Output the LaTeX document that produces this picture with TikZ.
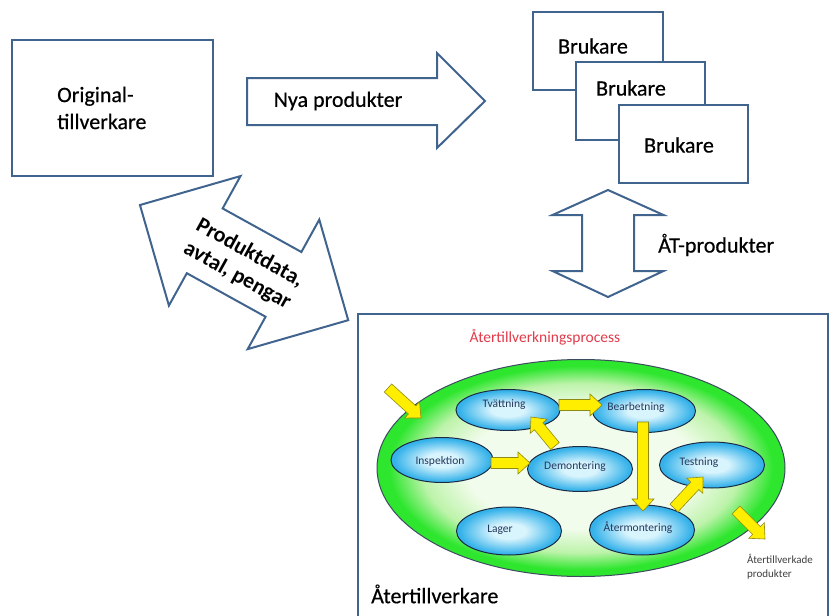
\documentclass[tikz,border=0pt]{standalone}
\usepackage{fontspec}
\setmainfont{Carlito}
\newfontfamily\labelfont[FakeBold=0.5]{Carlito}
\usetikzlibrary{calc,shapes.geometric}

\definecolor{edgeblue}{HTML}{41648F}
\definecolor{greenin}{HTML}{F2FCEC}
\definecolor{greenmid}{HTML}{BDF3AA}
\definecolor{greenout}{HTML}{2FE62F}
\definecolor{bluein}{HTML}{D8F4FD}
\definecolor{blueout}{HTML}{35B2EA}
\definecolor{ellline}{HTML}{1B2B45}
\definecolor{arrowyellow}{HTML}{FFEE00}
\definecolor{arrowline}{HTML}{8E8A10}
\definecolor{titlered}{HTML}{E23B4A}
\definecolor{steplabel}{HTML}{25385C}

% the path's bounding box covers the central 50bp square of a shading
\pgfdeclareradialshading{greenfield}{\pgfpoint{0bp}{0bp}}{%
  color(0bp)=(greenin); color(14bp)=(greenin); color(19.5bp)=(greenmid);
  color(23.5bp)=(greenout); color(50bp)=(greenout)}
\pgfdeclareradialshading{bluestep}{\pgfpoint{0bp}{0bp}}{%
  color(0bp)=(bluein); color(8bp)=(bluein); color(23.5bp)=(blueout);
  color(50bp)=(blueout)}

\tikzset{
  frame/.style={draw=edgeblue, line width=2pt, fill=white},
  bigarrow/.style={draw=edgeblue, line width=2pt, fill=white, line join=miter},
  biglabel/.style={font=\labelfont\fontsize{22}{27}\selectfont, inner sep=0pt},
  stepell/.style={ellipse, draw=ellline, line width=1pt, shading=bluestep,
    inner sep=0pt},
  steplbl/.style={font=\fontsize{11.5}{13}\selectfont, text=steplabel, inner sep=0pt},
  yarrow/.style={draw=arrowline, line width=0.6pt, fill=arrowyellow, line join=miter}
}

% yellow block arrow from #1 to #2
\newcommand\yellowarrow[2]{%
  \draw[yarrow] let \p1=($(#2)-(#1)$), \n1={atan2(\y1,\x1)}, \n2={veclen(\x1,\y1)} in
    ($(#1)+({\n1+90}:5.5pt)$)
    -- ($(#1)+(\n1:{\n2-12})+({\n1+90}:5.5pt)$)
    -- ($(#1)+(\n1:{\n2-12})+({\n1+90}:11pt)$)
    -- (#2)
    -- ($(#1)+(\n1:{\n2-12})+({\n1-90}:11pt)$)
    -- ($(#1)+(\n1:{\n2-12})+({\n1-90}:5.5pt)$)
    -- ($(#1)+({\n1-90}:5.5pt)$) -- cycle;}

\begin{document}
\begin{tikzpicture}[x=1pt, y=-1pt]
\useasboundingbox (0,0) rectangle (831,616);
\clip (0,0) rectangle (831,616);

% original manufacturer
\node[frame, minimum width=201pt, minimum height=136pt] (orig) at (112.5,108) {};
\node[biglabel, align=left, anchor=west] (origtxt) at (57,108) {Original-\\tillverkare};

% new products arrow
\draw[bigarrow] (247,78) -- (437,78) -- (437,53) -- (485,101) -- (437,148)
  -- (437,125) -- (247,125) -- cycle;
\node[biglabel] (nya) at (338,101) {Nya produkter};

% users
\node[frame, minimum width=130pt, minimum height=78pt] (bruk1) at (598,51) {};
\node[biglabel] (bruk1txt) at (593,46) {Brukare};
\node[frame, minimum width=129pt, minimum height=78pt] (bruk2) at (640.5,101) {};
\node[biglabel] (bruk2txt) at (631,88) {Brukare};
\node[frame, minimum width=129pt, minimum height=78pt] (bruk3) at (683.5,144) {};
\node[biglabel] (bruk3txt) at (679,145) {Brukare};

% remanufactured products, two-way arrow
\draw[bigarrow] (608,190) -- (663.5,215) -- (634,215) -- (634,271) -- (663.5,271)
  -- (608,297) -- (552.5,271) -- (582,271) -- (582,215) -- (552.5,215) -- cycle;
\node[biglabel, anchor=west] (atp) at (658,245) {ÅT-produkter};

% product data, agreements, money
\begin{scope}[shift={(244.1,262.6)}, rotate=-28.94]
  \draw[bigarrow] (-119,0) -- (-45,74) -- (-45,37) -- (45,37) -- (45,74) -- (119,0)
    -- (45,-74) -- (45,-37) -- (-45,-37) -- (-45,-74) -- cycle;
\end{scope}
\node[biglabel, font=\bfseries\fontsize{22}{26}\selectfont, align=center,
  rotate=-28.94] (pd) at (243.5,264.5) {Produktdata,\\avtal, pengar};

% remanufacturer
\node[frame, anchor=north west, minimum width=470pt, minimum height=340pt] (atv)
  at (357,313) {};
\node[biglabel, anchor=west] (atvtxt) at (371,594) {Återtillverkare};

% remanufacturing process
\node[text=titlered, font=\fontsize{15.5}{17}\selectfont, inner sep=0pt] (title)
  at (545,337) {Återtillverkningsprocess};
\node[ellipse, draw=ellline!85, line width=1pt, shading=greenfield,
  minimum width=408pt, minimum height=217pt, inner sep=0pt] (proc) at (581,468) {};

\node[stepell, minimum width=104pt, minimum height=41pt] (tv) at (508,410) {};
\node[steplbl] at (504,405) {Tvättning};
\node[stepell, minimum width=103pt, minimum height=43pt] (be) at (644,411) {};
\node[steplbl] at (636,407) {Bearbetning};
\node[stepell, minimum width=102pt, minimum height=45pt] (insp) at (442,460) {};
\node[steplbl] at (440,461) {Inspektion};
\node[stepell, minimum width=105pt, minimum height=45pt] (dem) at (580,469) {};
\node[steplbl] at (575,467) {Demontering};
\node[stepell, minimum width=105pt, minimum height=46pt] (tes) at (712,465) {};
\node[steplbl] at (699,463) {Testning};
\node[stepell, minimum width=105pt, minimum height=48pt] (lag) at (509,531) {};
\node[steplbl] at (500,530) {Lager};
\node[stepell, minimum width=105pt, minimum height=50pt] (atm) at (642,530) {};
\node[steplbl] at (638,528) {Återmontering};

\node[font=\fontsize{11}{14}\selectfont, text=black!75, align=left, anchor=west,
  inner sep=0pt] (outtxt) at (747,567) {Återtillverkade\\produkter};

% flow arrows
\coordinate (inS) at (388,388);   \coordinate (inE) at (421,418);
\coordinate (tvbeS) at (559,405); \coordinate (tvbeE) at (602,405);
\coordinate (detvS) at (555,446); \coordinate (detvE) at (531,417);
\coordinate (indeS) at (491,463); \coordinate (indeE) at (530,463);
\coordinate (beamS) at (643,422); \coordinate (beamE) at (643,511);
\coordinate (amteS) at (674,508); \coordinate (amteE) at (703,477);
\coordinate (outS) at (736,510);  \coordinate (outE) at (765,539);
\yellowarrow{inS}{inE}
\yellowarrow{tvbeS}{tvbeE}
\yellowarrow{detvS}{detvE}
\yellowarrow{indeS}{indeE}
\yellowarrow{beamS}{beamE}
\yellowarrow{amteS}{amteE}
\yellowarrow{outS}{outE}
\end{tikzpicture}
\end{document}
